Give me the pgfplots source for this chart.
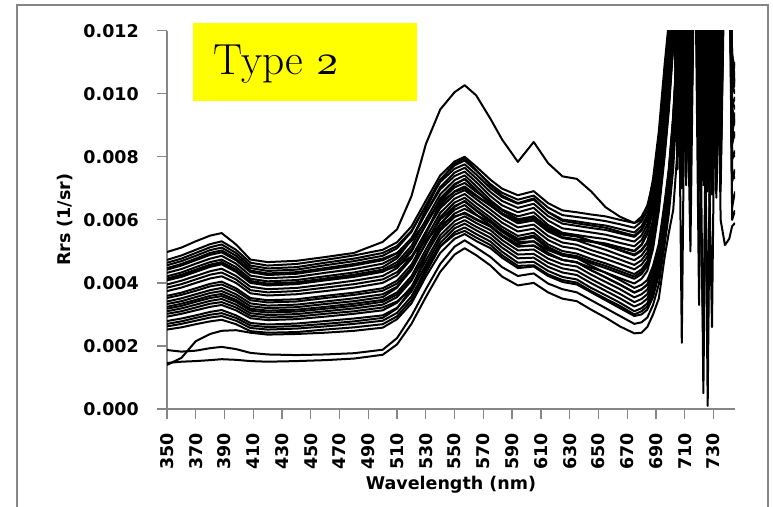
\documentclass[border=0pt]{standalone}
\usepackage{graphicx}
\usepackage{pgfplots}
\pgfplotsset{compat=1.18}
\usepackage{pgfplotstable}
\usepackage{fontspec}
\newfontfamily\dvs{DejaVu Sans}
\definecolor{axgray}{RGB}{134,134,134}
\definecolor{boxyellow}{RGB}{255,255,0}
\newcommand\lblfont{\dvs\bfseries\fontsize{17.5}{21}\selectfont}

% Rrs in units of 0.001 1/sr; one row per spectrum, one column per wavelength (nm)
\pgfplotstableread{
name 350 360 370 380 388 398 408 420 440 460 480 500 510 520 530 540 550 557 565 575 583 594 605 615 625 635 645 655 665 675 680 684 688 692 696 699 702 705 708 711 714 717 720 723 726 729 732 735 738 741 743 745
O   4.98 5.12 5.32 5.50 5.58 5.22 4.74 4.66 4.70 4.82 4.95 5.30 5.70 6.75 8.40 9.50 10.05 10.27 9.95 9.20 8.55 7.84 8.47 7.80 7.38 7.30 6.90 6.40 6.10 5.90 6.00 6.30 7.30 8.80 10.90 12.30 15 17 12.8 7.7 16 18 10.8 13 9.2 14 8.0 16 17 16 11.0 10.2
M1  4.73 4.87 5.05 5.23 5.32 5.05 4.64 4.55 4.60 4.73 4.87 5.05 5.29 5.79 6.61 7.41 7.85 8.00 7.69 7.27 6.99 6.78 6.91 6.53 6.30 6.24 6.17 6.11 6.00 5.90 6.10 6.45 7.20 8.50 10.40 12.00 14.5 9.2 16 8.4 15 17 9.6 16 8.8 15.5 10.2 16 17 16 11.2 10.8
N5  4.21 4.33 4.50 4.66 4.74 4.50 4.13 4.05 4.09 4.21 4.33 4.50 4.78 5.36 6.33 7.26 7.78 7.95 7.58 7.09 6.77 6.53 6.68 6.24 5.97 5.89 5.82 5.75 5.62 5.50 5.70 6.05 6.80 8.10 10.00 11.60 14 10.4 15 9.5 16 16 8.6 15 10.6 16 8.9 14 15 16 12.8 12.5
M2  4.56 4.69 4.86 5.04 5.12 4.86 4.47 4.38 4.42 4.56 4.69 4.86 5.10 5.62 6.46 7.28 7.73 7.88 7.56 7.13 6.86 6.64 6.77 6.39 6.15 6.09 6.03 5.96 5.86 5.75 5.95 6.30 7.05 8.35 10.25 11.85 15 15 2.1 15.5 8.0 16 17 9.0 16 7.6 15 8.5 16 17 16 15
M3  4.64 4.77 4.95 5.13 5.22 4.95 4.55 4.46 4.50 4.64 4.77 4.95 5.17 5.65 6.44 7.20 7.62 7.76 7.44 7.00 6.72 6.51 6.64 6.25 6.01 5.95 5.88 5.82 5.71 5.60 5.80 6.15 6.90 8.20 10.10 11.70 15.5 7.6 14 10.5 16 15 7.2 15 11 16 7.0 15.5 16 15 9.6 9.9
M4  4.32 4.44 4.61 4.77 4.86 4.61 4.23 4.15 4.19 4.32 4.44 4.61 4.85 5.37 6.22 7.04 7.50 7.65 7.32 6.88 6.60 6.38 6.51 6.12 5.88 5.81 5.74 5.68 5.57 5.46 5.66 6.01 6.76 8.06 9.96 11.56 14 16 7.3 15 9.2 18 15 7.5 15 10.5 16 6.9 15 16 8.4 8.8
M5  4.42 4.55 4.72 4.89 4.97 4.72 4.34 4.25 4.29 4.42 4.55 4.72 4.94 5.42 6.21 6.97 7.39 7.53 7.20 6.75 6.46 6.24 6.38 5.98 5.73 5.67 5.60 5.53 5.42 5.31 5.51 5.86 6.61 7.91 9.81 11.41 13.5 11.0 16 7.1 15 16 11.2 15 0.1 15 9.0 17 15 16 15 14
N2  3.33 3.42 3.55 3.68 3.74 3.55 3.26 3.20 3.23 3.33 3.42 3.55 3.85 4.49 5.54 6.55 7.11 7.30 6.96 6.50 6.20 5.97 6.10 5.69 5.44 5.37 5.30 5.23 5.12 5.00 5.20 5.55 6.30 7.60 9.50 11.10 13.5 16 8.7 15 10.9 17 7.9 16 11.7 15 7.4 15 16 15 9.8 9.5
M6  4.14 4.26 4.42 4.58 4.66 4.42 4.06 3.98 4.02 4.14 4.26 4.42 4.66 5.17 6.00 6.81 7.26 7.41 7.07 6.62 6.33 6.11 6.24 5.84 5.59 5.52 5.45 5.39 5.27 5.16 5.36 5.71 6.46 7.76 9.66 11.26 14 15 9.8 16 7.4 15 8.3 16 7.0 14 11.5 8.0 16 17 7.2 7.6
M7  3.95 4.07 4.22 4.37 4.45 4.22 3.88 3.80 3.84 3.95 4.07 4.22 4.47 4.99 5.85 6.68 7.14 7.29 6.95 6.50 6.20 5.97 6.11 5.70 5.45 5.38 5.32 5.25 5.13 5.02 5.22 5.57 6.32 7.62 9.52 11.12 13 8.5 15 12.5 5.0 16 14 8.2 16 6.8 14 10.8 15 15 10.3 10.0
M8  4.08 4.19 4.35 4.51 4.59 4.35 4.00 3.92 3.96 4.08 4.19 4.35 4.58 5.06 5.84 6.61 7.03 7.17 6.89 6.57 6.30 6.02 6.11 5.77 5.56 5.49 5.33 5.19 5.03 4.87 5.02 5.27 5.97 7.17 8.87 10.37 12.4 14 7.8 15 11.0 16 7.8 14 9.5 16 7.6 15 17 16 14 14
N1  4.47 4.60 4.77 4.95 5.03 4.77 4.39 4.30 4.34 4.47 4.60 4.77 4.95 5.33 5.95 6.55 6.89 7.00 6.75 6.45 6.20 5.95 6.03 5.72 5.53 5.47 5.32 5.19 5.05 4.90 5.05 5.30 6.00 7.20 8.90 10.40 12.5 15 10.2 16 8.2 16 15 7.8 14 12.2 16 9.3 16 15 16 15
M9  3.74 3.85 4.00 4.14 4.21 4.00 3.67 3.60 3.64 3.74 3.85 4.00 4.24 4.77 5.62 6.45 6.91 7.06 6.78 6.45 6.17 5.89 5.98 5.63 5.42 5.35 5.19 5.05 4.88 4.72 4.87 5.12 5.82 7.02 8.72 10.22 12.2 15 11.8 8.0 15 17 14 0.5 14 9.1 15 7.3 16 15 6.4 6.9
M10 3.85 3.96 4.11 4.26 4.33 4.11 3.77 3.70 3.74 3.85 3.96 4.11 4.34 4.82 5.61 6.37 6.80 6.94 6.66 6.32 6.04 5.76 5.85 5.49 5.28 5.21 5.04 4.90 4.74 4.57 4.72 4.97 5.67 6.87 8.57 10.07 12.1 9.8 15 7.6 16 15 10.4 16 7.9 15 11.0 16 15 16 9.1 9.4
M11 3.59 3.69 3.83 3.97 4.04 3.83 3.52 3.45 3.48 3.59 3.69 3.83 4.07 4.58 5.41 6.22 6.67 6.82 6.53 6.20 5.91 5.63 5.72 5.36 5.15 5.08 4.91 4.76 4.60 4.43 4.58 4.83 5.53 6.73 8.43 9.93 11.9 15 8.9 14 7.0 16 15 10.8 15 8.3 16 9.7 16 17 16 15
N4  2.70 2.78 2.89 2.99 3.04 2.89 2.65 2.60 2.63 2.70 2.78 2.89 3.19 3.82 4.86 5.86 6.41 6.60 6.31 5.98 5.69 5.40 5.50 5.14 4.92 4.85 4.68 4.54 4.37 4.20 4.35 4.60 5.30 6.50 8.20 9.70 11.7 14 9.4 15 7.6 16 12.3 15 8.1 14 10.3 16 15 16 8.1 8.0
M12 3.41 3.51 3.64 3.77 3.84 3.64 3.35 3.28 3.31 3.41 3.51 3.64 3.88 4.41 5.26 6.09 6.55 6.70 6.41 6.07 5.78 5.49 5.59 5.22 5.01 4.93 4.76 4.62 4.45 4.28 4.43 4.68 5.38 6.58 8.28 9.78 11.8 14 16 9.6 15 16 3.3 15 12.0 7.2 15 12.5 16 16 7.9 8.2
M13 3.52 3.62 3.75 3.89 3.95 3.75 3.45 3.38 3.41 3.52 3.62 3.75 3.98 4.46 5.25 6.01 6.44 6.58 6.29 5.94 5.65 5.36 5.45 5.09 4.87 4.79 4.62 4.47 4.30 4.13 4.28 4.53 5.23 6.43 8.13 9.63 11.6 13 7.0 15 9.9 16 9.0 14 7.4 16 8.6 15 16 15 10.7 11.0
M14 3.24 3.34 3.46 3.59 3.65 3.46 3.18 3.12 3.15 3.24 3.34 3.46 3.70 4.21 5.06 5.87 6.32 6.47 6.17 5.82 5.52 5.23 5.32 4.95 4.73 4.65 4.48 4.33 4.15 3.98 4.13 4.38 5.08 6.28 7.98 9.48 11.5 14 10.6 15 7.8 15 16 9.6 15 11.4 7.1 14 15 16 15 16
N3  4.11 4.23 4.38 4.54 4.62 4.38 4.03 3.95 3.99 4.11 4.23 4.38 4.53 4.84 5.34 5.84 6.11 6.20 6.00 5.78 5.48 5.15 5.18 4.90 4.73 4.65 4.40 4.18 3.95 3.70 3.80 3.95 4.40 5.10 6.40 7.50 9.2 11.7 16 9.3 15 16 10.3 15 7.7 16 12.4 7.5 16 16 15 15
M15 3.10 3.19 3.31 3.43 3.49 3.31 3.04 2.98 3.01 3.10 3.19 3.31 3.55 4.07 4.92 5.74 6.20 6.35 6.15 5.92 5.62 5.30 5.32 5.04 4.87 4.79 4.54 4.32 4.09 3.84 3.94 4.09 4.54 5.24 6.54 7.64 9.3 11.8 15 8.6 15 16 7.0 15 10.1 2.6 15 8.2 16 17 6.0 6.3
M16 3.18 3.27 3.40 3.52 3.58 3.40 3.12 3.06 3.09 3.18 3.27 3.40 3.63 4.11 4.90 5.66 6.09 6.23 6.03 5.80 5.49 5.16 5.19 4.91 4.73 4.66 4.40 4.17 3.94 3.69 3.79 3.94 4.39 5.09 6.39 7.49 9.2 11.7 14 11.2 8.6 16 12.0 7.1 15 10.0 16 7.7 16 15 8.9 8.6
M17 2.93 3.02 3.13 3.24 3.30 3.13 2.88 2.82 2.85 2.93 3.02 3.13 3.37 3.88 4.71 5.51 5.96 6.11 5.90 5.67 5.36 5.03 5.06 4.77 4.59 4.52 4.26 4.03 3.80 3.54 3.64 3.79 4.24 4.94 6.24 7.34 9.0 11.5 16 7.3 14 17 8.8 2.0 15 12.0 9.4 16 15 16 16 15
N6  3.02 3.10 3.22 3.34 3.39 3.22 2.96 2.90 2.93 3.02 3.10 3.22 3.41 3.83 4.51 5.16 5.53 5.65 5.44 5.20 4.88 4.54 4.56 4.27 4.09 4.01 3.74 3.50 3.27 3.00 3.10 3.25 3.70 4.40 5.70 6.80 8.5 11.0 14 8.1 16 15 11.5 7.9 15 8.8 14 10.1 16 15 9.6 9.0
M18 2.79 2.87 2.97 3.08 3.14 2.97 2.73 2.68 2.71 2.79 2.87 2.97 3.21 3.73 4.57 5.39 5.84 5.99 5.78 5.55 5.24 4.90 4.92 4.64 4.46 4.38 4.12 3.88 3.65 3.39 3.49 3.64 4.09 4.79 6.09 7.19 8.9 11.4 13.5 15 10.6 16 7.5 15 8.4 15 6.7 11.6 16 15 11.3 10.4
M19 2.62 2.70 2.80 2.90 2.95 2.80 2.57 2.52 2.55 2.62 2.70 2.80 3.05 3.57 4.43 5.26 5.73 5.88 5.67 5.43 5.12 4.78 4.80 4.51 4.33 4.25 3.99 3.75 3.51 3.25 3.35 3.50 3.95 4.65 5.95 7.05 8.8 11.3 14 9.0 16 15 13 11.5 16 7.0 15 16 15 16 7.5 7.3
M20 2.52 2.59 2.69 2.78 2.83 2.69 2.47 2.42 2.44 2.52 2.59 2.69 2.94 3.46 4.32 5.15 5.61 5.76 5.55 5.31 4.99 4.64 4.67 4.38 4.19 4.11 3.84 3.61 3.37 3.10 3.20 3.35 3.80 4.50 5.80 6.90 8.6 11.1 15 10.0 7.2 16 9.9 15 6.9 15 10.6 15 16 15 16 16
L1  1.46 1.50 1.52 1.55 1.58 1.56 1.52 1.50 1.52 1.55 1.60 1.72 2.05 2.70 3.55 4.35 4.90 5.10 4.88 4.55 4.20 3.92 4.00 3.70 3.50 3.42 3.15 2.90 2.62 2.40 2.42 2.60 3.00 3.50 4.80 5.60 6.3 8.2 11.5 15 9.4 16 15 8.6 15 9.8 16 6.0 5.2 5.4 5.8 5.9
L2  1.87 1.82 1.85 1.93 1.97 1.90 1.78 1.73 1.71 1.73 1.77 1.88 2.25 2.95 3.80 4.60 5.15 5.35 5.12 4.82 4.50 4.22 4.30 3.98 3.80 3.70 3.45 3.20 2.95 2.70 2.75 2.90 3.30 3.95 5.20 6.20 7.6 10.0 13 16 8.8 15 11.8 14 1.6 14 8.0 15 16 15 8.7 9.3
L3  1.40 1.62 2.15 2.38 2.48 2.50 2.42 2.36 2.38 2.42 2.48 2.58 2.85 3.35 4.20 4.95 5.40 5.55 5.33 5.10 4.80 4.47 4.52 4.22 4.03 3.95 3.70 3.45 3.20 2.95 3.00 3.15 3.55 4.25 5.50 6.60 8.2 10.6 13.5 14 10.2 16 8.0 16 11.3 15 9.8 14 16 16 10.0 10.5
}\rawdata
\pgfplotstabletranspose[colnames from=name]{\spectra}{\rawdata}

\begin{document}
\begin{tikzpicture}[x=1pt,y=1pt]
\useasboundingbox (0,0) rectangle (773,506);
\draw[axgray, line width=1.5pt] (17,-30) rectangle (768,501);
\begin{axis}[
  at={(167pt,97pt)}, anchor=south west,
  scale only axis, width=568pt, height=378.3pt,
  xmin=350, xmax=745, ymin=0, ymax=12,
  enlargelimits=false,
  axis x line=bottom, axis y line=left,
  axis line style={-, axgray, line width=1.3pt},
  tick align=outside, major tick length=10pt,
  tick style={axgray, line width=1.3pt},
  xtick={350,370,...,730},
  xticklabels={350,370,390,410,430,450,470,490,510,530,550,570,590,610,630,650,670,690,710,730},
  ytick={0,2,4,6,8,10,12},
  yticklabels={0.000,0.002,0.004,0.006,0.008,0.010,0.012},
  ticklabel style={font=\lblfont, inner sep=0pt, text=black},
  xticklabel style={rotate=90, anchor=east},
  yticklabel style={anchor=east},
  xticklabel shift=14pt, yticklabel shift=18pt,
  xlabel={Wavelength (nm)}, ylabel={Rrs (1/sr)},
  label style={font=\lblfont, text=black},
  xlabel style={at={([yshift=-76pt]axis description cs:0.5,0)}, anchor=center},
  ylabel style={at={([xshift=-102pt]axis description cs:0,0.5)}, anchor=center},
]
\pgfplotsinvokeforeach{O,M1,N5,M2,M3,M4,M5,N2,M6,M7,M8,N1,M9,M10,M11,N4,M12,M13,M14,N3,M15,M16,M17,N6,M18,M19,M20,L1,L2,L3}{
  \addplot[black, line width=2pt, line join=round] table[x=colnames, y=#1] {\spectra};
}
\end{axis}
\fill[boxyellow] (193,405) rectangle (417,483);
\node[anchor=base west, inner sep=0pt, font=\fontsize{43.5}{48}\selectfont] at (213,431) {Type {\fontsize{10}{12}\usefont{OML}{lmm}{m}{it}\scalebox{4.35}{2}}};
\end{tikzpicture}
\end{document}
